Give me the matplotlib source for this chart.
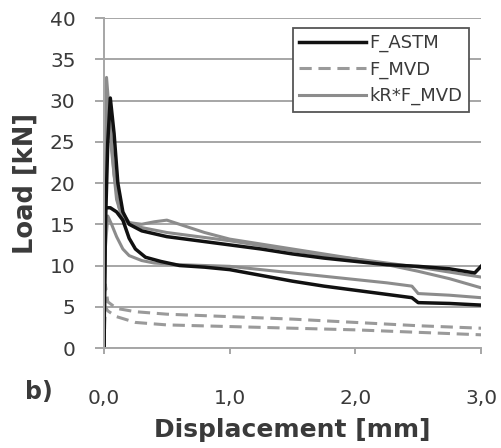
#!/usr/bin/env python3
"""
Load vs displacement curves, panel b)
"""
import matplotlib
matplotlib.use('Agg')
import matplotlib.pyplot as plt

# F_ASTM, two specimens
astm_hi_x = [0, 0.005, 0.01, 0.03, 0.05, 0.08, 0.11, 0.15, 0.2, 0.3, 0.5, 0.75,
             1.0, 1.25, 1.5, 1.75, 2.0, 2.25, 2.5, 2.75, 2.95, 3.0]
astm_hi_y = [0, 8, 14, 25, 30.3, 26, 20, 16.5, 15.0, 14.2, 13.5, 13.0,
             12.5, 12.0, 11.4, 10.9, 10.5, 10.1, 9.9, 9.6, 9.1, 9.9]
astm_lo_x = [0, 0.005, 0.01, 0.05, 0.1, 0.15, 0.2, 0.25, 0.33, 0.45, 0.6, 0.8,
             1.0, 1.25, 1.5, 1.75, 2.0, 2.25, 2.45, 2.5, 2.75, 3.0]
astm_lo_y = [0, 10, 17, 17, 16.5, 15.5, 13.3, 12.0, 11.0, 10.5, 10.0, 9.8,
             9.5, 8.8, 8.1, 7.5, 7.0, 6.5, 6.1, 5.5, 5.4, 5.2]

# F_MVD, two specimens
mvd_hi_x = [0, 0.01, 0.03, 0.1, 0.25, 0.5, 1.0, 1.5, 2.0, 2.5, 3.0]
mvd_hi_y = [0, 7.7, 5.6, 4.8, 4.4, 4.1, 3.8, 3.5, 3.1, 2.7, 2.4]
mvd_lo_x = [0, 0.01, 0.03, 0.1, 0.25, 0.5, 1.0, 1.5, 2.0, 2.5, 3.0]
mvd_lo_y = [0, 5.0, 4.5, 3.8, 3.1, 2.8, 2.6, 2.4, 2.2, 1.9, 1.6]

# kR*F_MVD
kr_hi_x = [0, 0.005, 0.02, 0.05, 0.08, 0.12, 0.2, 0.3, 0.4, 0.5, 0.6, 0.8,
           1.0, 1.25, 1.5, 1.75, 2.0, 2.25, 2.5, 2.75, 3.0]
kr_hi_y = [0, 20, 32.8, 27, 21, 17, 15.2, 15.0, 15.3, 15.5, 15.0, 14.0,
           13.2, 12.6, 12.0, 11.4, 10.8, 10.1, 9.3, 8.4, 7.3]
kr_mid_x = [0, 0.01, 0.03, 0.06, 0.1, 0.15, 0.3, 0.5, 0.75, 1.0, 1.25, 1.5,
            1.75, 2.0, 2.25, 2.5, 2.75, 3.0]
kr_mid_y = [0, 18, 30, 24, 18, 15.5, 14.6, 14.0, 13.5, 13.0, 12.4, 11.8,
            11.2, 10.8, 10.3, 9.8, 9.2, 8.6]
kr_lo_x = [0, 0.01, 0.03, 0.06, 0.1, 0.15, 0.2, 0.3, 0.4, 0.6, 0.8, 1.0,
           1.25, 1.5, 1.75, 2.0, 2.25, 2.45, 2.5, 2.75, 3.0]
kr_lo_y = [0, 12, 16, 15, 13.5, 12.0, 11.2, 10.6, 10.3, 10.1, 10.0, 9.9,
           9.5, 9.1, 8.7, 8.3, 7.9, 7.5, 6.6, 6.4, 6.1]

x_ticks = [0, 1, 2, 3]
x_tick_labels = ['0,0', '1,0', '2,0', '3,0']
y_ticks = [0, 5, 10, 15, 20, 25, 30, 35, 40]


def main():
  fig = plt.figure(figsize=(5.02, 4.48), dpi=100)
  ax = fig.add_axes([0.2072, 0.2232, 0.751, 0.7366])

  grid_c = '#a6a6a6'
  black = '#111111'
  gray = '#8c8c8c'
  dgray = '#9a9a9a'
  text_c = '#3a3a3a'

  ax.plot(mvd_hi_x, mvd_hi_y, color=dgray, lw=2.2, dashes=(4, 2.2), label='F_MVD')
  ax.plot(mvd_lo_x, mvd_lo_y, color=dgray, lw=2.2, dashes=(4, 2.2))
  ax.plot(kr_hi_x, kr_hi_y, color=gray, lw=2.2, label='kR*F_MVD')
  ax.plot(kr_mid_x, kr_mid_y, color=gray, lw=2.2)
  ax.plot(kr_lo_x, kr_lo_y, color=gray, lw=2.2)
  ax.plot(astm_hi_x, astm_hi_y, color=black, lw=2.5, label='F_ASTM')
  ax.plot(astm_lo_x, astm_lo_y, color=black, lw=2.5)

  ax.set_xlim(0, 3)
  ax.set_ylim(0, 40)
  ax.set_xticks(x_ticks)
  ax.set_xticklabels(x_tick_labels)
  ax.set_yticks(y_ticks)
  ax.yaxis.grid(True, color=grid_c, lw=1.4)
  ax.set_axisbelow(True)
  for s in ['top', 'right']:
    ax.spines[s].set_visible(False)
  for s in ['left', 'bottom']:
    ax.spines[s].set_color(grid_c)
    ax.spines[s].set_linewidth(1.4)
  ax.tick_params(axis='y', length=6.5, width=1.4, color=grid_c, pad=14,
                 labelsize=14.5, labelcolor=text_c)
  ax.tick_params(axis='x', length=4.5, width=1.4, color=grid_c, pad=25,
                 labelsize=14.5, labelcolor=text_c)

  ax.set_xlabel('Displacement [mm]', fontsize=18, fontweight='bold',
                color=text_c, labelpad=7)
  ax.set_ylabel('Load [kN]', fontsize=18.5, fontweight='bold',
                color=text_c, labelpad=8)
  fig.text(0.078, 0.124, 'b)', fontsize=17, fontweight='bold',
           color=text_c, ha='center', va='center')

  handles, labels = ax.get_legend_handles_labels()
  order = [labels.index(l) for l in ['F_ASTM', 'F_MVD', 'kR*F_MVD']]
  leg = ax.legend([handles[i] for i in order], [labels[i] for i in order],
                  loc='upper right', bbox_to_anchor=(0.968, 0.97),
                  fontsize=13, handlelength=3.7, handletextpad=0.2,
                  labelspacing=0.45, borderpad=0.35, borderaxespad=0,
                  fancybox=False, framealpha=1, edgecolor='#555555')
  leg.get_frame().set_linewidth(1.3)
  for t in leg.get_texts():
    t.set_color(text_c)

  fig.savefig('out.png', dpi=100)


if __name__ == '__main__':
  main()
